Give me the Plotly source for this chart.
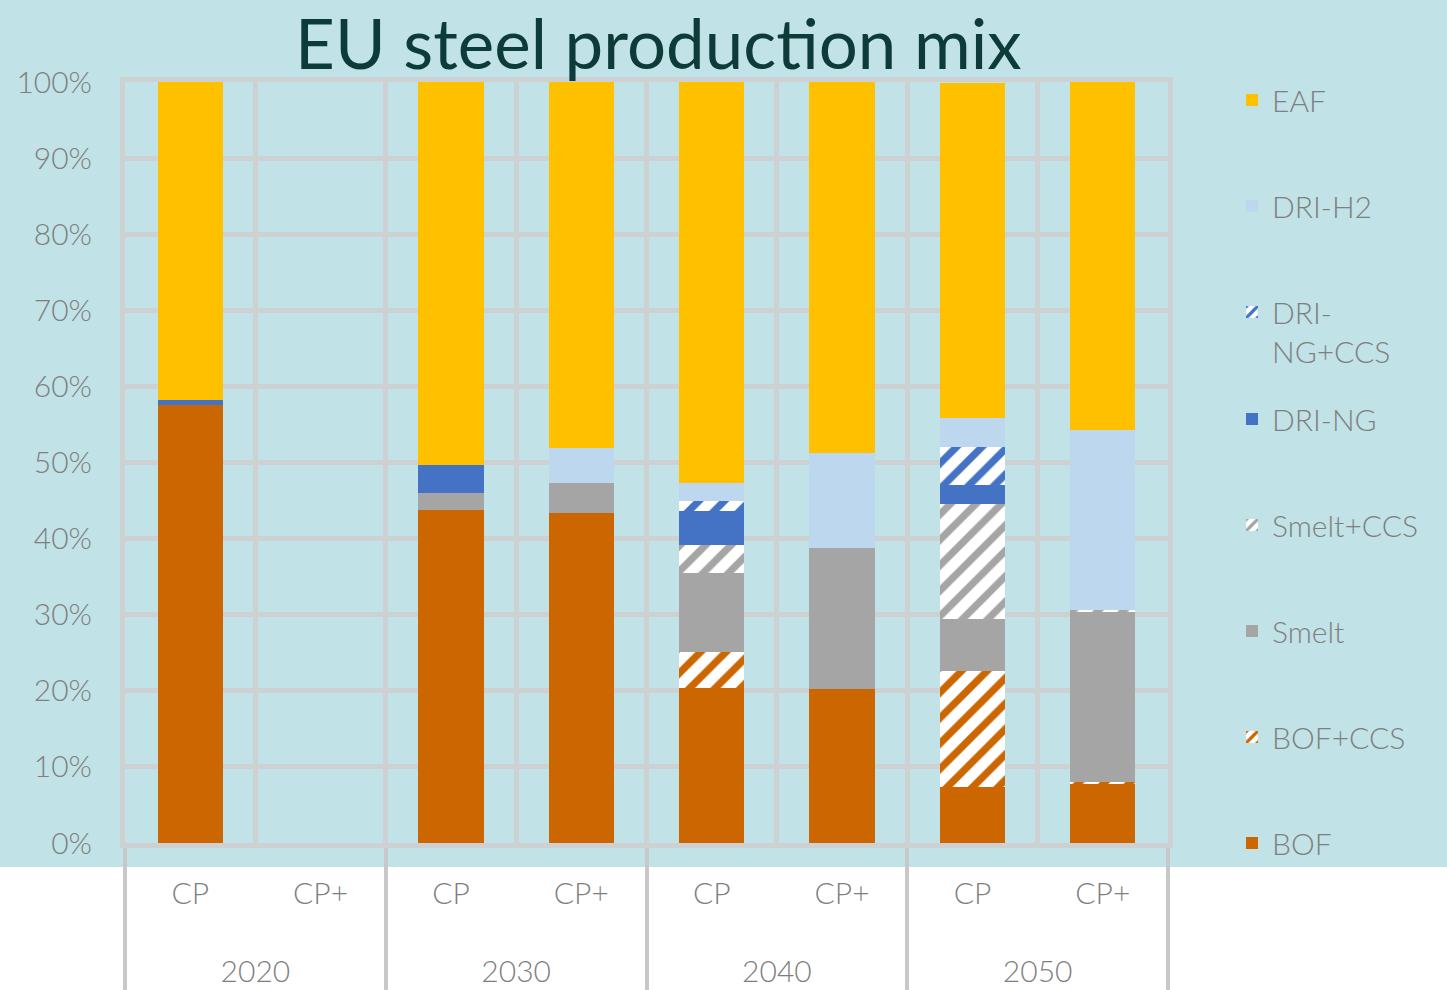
"""EU steel production mix - stacked bars per year and scenario"""

import plotly.graph_objects as go

years = ["2020", "2020", "2030", "2030", "2040", "2040", "2050", "2050"]
scenarios = ["CP", "CP+", "CP", "CP+", "CP", "CP+", "CP", "CP+"]

# shares in %, bottom of the stack first
bof = [57.6, 0, 43.8, 43.4, 20.4, 20.2, 7.4, 7.8]
bof_ccs = [0, 0, 0, 0, 4.7, 0, 15.2, 0.2]
smelt = [0, 0, 2.2, 3.9, 10.4, 18.5, 6.9, 22.4]
smelt_ccs = [0, 0, 0, 0, 3.6, 0, 15.1, 0.2]
dri_ng = [0.6, 0, 3.7, 0, 4.5, 0, 2.4, 0]
dri_ng_ccs = [0, 0, 0, 0, 1.4, 0, 5.1, 0]
dri_h2 = [0, 0, 0, 4.6, 2.3, 12.6, 3.7, 23.7]
eaf = [41.8, 0, 50.3, 48.1, 52.7, 48.7, 44.1, 45.7]

BG = "#C1E2E6"
GRID = "#CDD1D2"
TXT = "#7F7F7F"
FONT = "Lato"


def plot_steel_mix() -> go.Figure:
    # name, values, colour, hatched, legend box
    series = [
        ("BOF", bof, "#CC6600", False, "legend2"),
        ("BOF+CCS", bof_ccs, "#CC6600", True, "legend2"),
        ("Smelt", smelt, "#A5A5A5", False, "legend2"),
        ("Smelt+CCS", smelt_ccs, "#A5A5A5", True, "legend2"),
        ("DRI-NG", dri_ng, "#4472C4", False, "legend2"),
        ("DRI-<br>NG+CCS", dri_ng_ccs, "#4472C4", True, "legend"),
        ("DRI-H2", dri_h2, "#BDD7EE", False, "legend"),
        ("EAF", eaf, "#FFC000", False, "legend"),
    ]

    # tall blank second line pushes the year row further down
    scen_labels = [s + "<br><span style='font-size:80px'> </span>" for s in scenarios]

    fig = go.Figure()
    for i, (name, values, colour, hatched, leg) in enumerate(series):
        if hatched:
            marker = dict(
                color="white",
                line_width=0,
                pattern=dict(shape="/", fgcolor=colour, bgcolor="white",
                             size=18, solidity=0.4, fillmode="replace"),
            )
        else:
            marker = dict(color=colour, line_width=0)
        fig.add_trace(go.Bar(
            x=[years, scen_labels],
            y=[v / 100 for v in values],
            name=name,
            legend=leg,
            legendgroup=name,
            legendrank=len(series) - i,
            marker=marker,
        ))

    # light blue panel behind chart and legend, white under the labels
    fig.add_shape(type="rect", xref="paper", yref="paper",
                  x0=-0.2, x1=1.4, y0=-0.0315, y1=1.2,
                  fillcolor=BG, line_width=0, layer="below")

    legend_style = dict(
        xref="container", yref="container",
        x=1232 / 1447, xanchor="left", yanchor="top",
        traceorder="grouped",
        tracegroupgap=64,
        valign="top",
        maxheight=990,
        font=dict(size=30, color=TXT),
        bgcolor="rgba(0,0,0,0)",
    )

    fig.update_layout(
        width=1447,
        height=990,
        barmode="stack",
        bargap=0.5,
        paper_bgcolor="white",
        plot_bgcolor=BG,
        margin=dict(l=125, r=279, t=82, b=147, autoexpand=False),
        font=dict(family=FONT, color=TXT, size=30, weight=300),
        title=dict(
            text="EU steel production mix",
            x=0.455, xref="container", xanchor="center",
            y=0.955, yref="container", yanchor="middle",
            font=dict(family=FONT, size=69, color="#0D3B39", weight=400),
        ),
        legend=dict(legend_style, y=1 - 74 / 990),
        legend2=dict(legend_style, y=1 - 393 / 990),
        xaxis=dict(
            type="multicategory",
            automargin=False,
            showgrid=True, gridcolor=GRID, gridwidth=5,
            showline=True, linecolor=GRID, linewidth=5, mirror=True,
            showdividers=True, dividercolor="#C8C8C8", dividerwidth=4,
            tickfont=dict(size=30, color=TXT),
            ticklabelstandoff=20,
        ),
        yaxis=dict(
            range=[0, 1],
            dtick=0.1,
            tickformat=".0%",
            automargin=False,
            showgrid=True, gridcolor=GRID, gridwidth=5,
            showline=True, linecolor=GRID, linewidth=5, mirror=True,
            zeroline=False,
            tickfont=dict(size=30, color=TXT),
            ticklabelstandoff=22,
        ),
    )
    return fig


fig = plot_steel_mix()
# drop the default page margin so the figure sits at the window corner
fig.write_html(
    "out.html",
    config={"displayModeBar": False},
    post_script="document.body.style.margin = '0';",
)
